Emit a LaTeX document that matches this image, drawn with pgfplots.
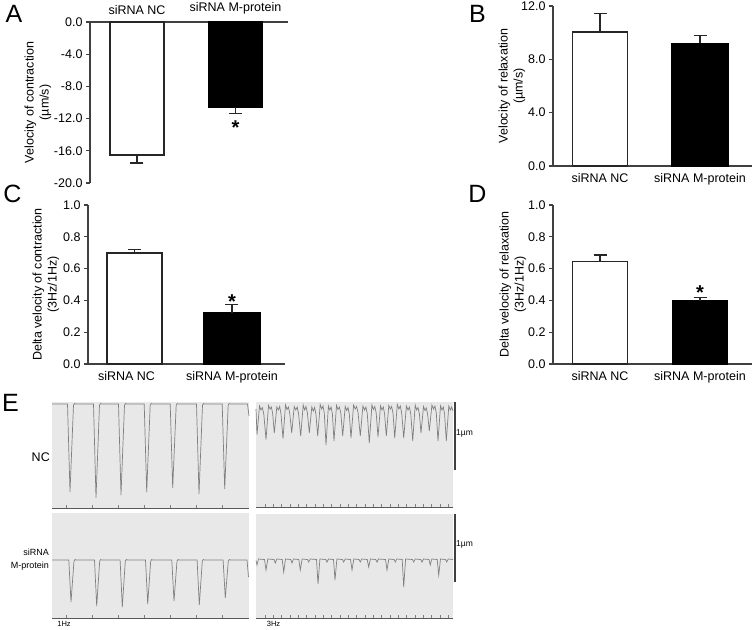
\documentclass[border=0pt]{standalone}
\usepackage{pgfplots}
\pgfplotsset{compat=1.18}
\usepackage{fontspec}
\setmainfont{Liberation Sans}
\newcommand{\fs}[1]{\fontsize{#1}{#1}\selectfont}
\pgfplotsset{
  barax/.style={
    scale only axis, axis y line*=left,
    xtick={0,1}, xticklabels={siRNA NC, siRNA M-protein},
    x tick style={draw=none},
    tick align=outside, major tick length=4pt,
    axis line style={line width=1.2pt, black!75},
    y tick style={line width=1.2pt, black!75},
    ticklabel style={font=\fs{12.5}},
    ylabel style={font=\fontsize{12.5}{15}\selectfont, align=center},
    clip=false,
  },
  trace/.style={
    scale only axis, width=197pt,
    axis background/.style={fill=black!9},
    axis y line=none, axis x line*=bottom,
    ytick=\empty, xticklabels={},
    tick align=inside, major tick length=3pt,
    x axis line style={black!65, line width=1pt},
    xtick style={black!50, line width=0.6pt},
    clip=false,
  },
  tr/.style={black!50, line width=0.7pt},
  ebarP/.style={error bars/.cd, y dir=plus, y explicit, error bar style={line width=1.3pt, black!85}, error mark options={rotate=90, line width=1.3pt, mark size=6.5pt, black!85}},
  ebarM/.style={error bars/.cd, y dir=minus, y explicit, error bar style={line width=1.3pt, black!85}, error mark options={rotate=90, line width=1.3pt, mark size=6.5pt, black!85}},
}
\begin{document}
\begin{tikzpicture}
% ---------- A ----------
\begin{axis}[barax, at={(90pt,-22pt)}, anchor=north west, width=198pt, height=161pt,
  axis x line*=top, xmin=-0.477, xmax=1.533, ymin=-20, ymax=0,
  ytick={-20,-16,-12,-8,-4,0}, yticklabels={-20.0,-16.0,-12.0,-8.0,-4.0,0.0},
  ylabel={Velocity of contraction\\(µm/s)}, ylabel shift=-4pt]
\addplot[ybar, bar shift=0pt, bar width=0.55, fill=white, draw=black!85, line width=1.6pt, ebarM]
  coordinates {(0,-16.5) -= (0,1.0)};
\addplot[ybar, bar shift=0pt, bar width=0.55, fill=black, draw=black, line width=1.6pt, ebarM]
  coordinates {(1,-10.6) -= (0,0.8)};
\node[font=\fs{20}\bfseries] at (axis cs:1,-13.1) {*};
\end{axis}
% ---------- B ----------
\begin{axis}[barax, at={(553pt,-6pt)}, anchor=north west, width=199pt, height=160pt,
  axis x line*=bottom, xmin=-0.47, xmax=1.52, ymin=0, ymax=12,
  ytick={0,4,8,12}, yticklabels={0.0,4.0,8.0,12.0},
  ylabel={Velocity of relaxation\\(µm/s)}, ylabel shift=-11pt]
\addplot[ybar, bar shift=0pt, bar width=0.55, fill=white, draw=black!85, line width=1.6pt, ebarP]
  coordinates {(0,10.05) += (0,1.4)};
\addplot[ybar, bar shift=0pt, bar width=0.56, fill=black, draw=black, line width=1.6pt, ebarP]
  coordinates {(1,9.2) += (0,0.6)};
\end{axis}
% ---------- C ----------
\begin{axis}[barax, at={(88pt,-205pt)}, anchor=north west, width=197pt, height=159pt,
  axis x line*=bottom, xmin=-0.477, xmax=1.544, ymin=0, ymax=1,
  xticklabels={\hspace*{-16pt}siRNA NC, siRNA M-protein},
  ytick={0,0.2,0.4,0.6,0.8,1}, yticklabels={0.0,0.2,0.4,0.6,0.8,1.0},
  ylabel={Delta velocity of contraction\\(3Hz/1Hz)}, ylabel shift=-3pt]
\addplot[ybar, bar shift=0pt, bar width=0.56, fill=white, draw=black!85, line width=1.6pt, ebarP]
  coordinates {(0,0.70) += (0,0.02)};
\addplot[ybar, bar shift=0pt, bar width=0.57, fill=black, draw=black, line width=1.6pt, ebarP]
  coordinates {(1,0.32) += (0,0.055)};
\node[font=\fs{20}\bfseries] at (axis cs:1,0.39) {*};
\end{axis}
% ---------- D ----------
\begin{axis}[barax, at={(553pt,-205pt)}, anchor=north west, width=199pt, height=159pt,
  axis x line*=bottom, xmin=-0.47, xmax=1.52, ymin=0, ymax=1,
  ytick={0,0.2,0.4,0.6,0.8,1}, yticklabels={0.0,0.2,0.4,0.6,0.8,1.0},
  ylabel={Delta velocity of relaxation\\(3Hz/1Hz)}, ylabel shift=-5pt]
\addplot[ybar, bar shift=0pt, bar width=0.55, fill=white, draw=black!85, line width=1.6pt, ebarP]
  coordinates {(0,0.645) += (0,0.04)};
\addplot[ybar, bar shift=0pt, bar width=0.55, fill=black, draw=black, line width=1.6pt, ebarP]
  coordinates {(1,0.395) += (0,0.025)};
\node[font=\fs{20}\bfseries] at (axis cs:1,0.45) {*};
\end{axis}
% ---------- E traces ----------
\begin{axis}[trace, at={(52pt,-402pt)}, anchor=north west, height=106pt,
  xmin=52, xmax=249, ymin=-508, ymax=-402, xtick={66.7,92.6,118.5,144.4,170.3,196.2,222.1}]
\addplot[tr] coordinates {
(52,-404) (67.5,-404) (70,-492) (73.5,-405) (74.5,-403.5) (75.5,-404)
(93.5,-404) (96,-498) (99.5,-405) (100.5,-403.5) (101.5,-404)
(118.5,-404) (121,-495) (124.5,-405) (125.5,-403.5) (126.5,-404)
(144.2,-404) (146.7,-492) (150.2,-405) (151.2,-403.5) (152.2,-404)
(170.2,-404) (172.7,-488) (176.2,-405) (177.2,-403.5) (178.2,-404)
(196.5,-404) (199,-494) (202.5,-405) (203.5,-403.5) (204.5,-404)
(222.2,-404) (224.7,-489) (228.2,-405) (229.2,-403.5) (230.2,-404)
(247.5,-404) (249,-416)};
\end{axis}
\begin{axis}[trace, at={(52pt,-513pt)}, anchor=north west, height=105pt,
  xmin=52, xmax=249, ymin=-618, ymax=-513, xtick={66.7,92.6,118.5,144.4,170.3,196.2,222.1}]
\addplot[tr] coordinates {
(52,-560) (68.8,-560) (71,-602) (74,-561) (75,-559.5) (76,-560)
(94.5,-560) (96.7,-606) (99.7,-561) (100.7,-559.5) (101.7,-560)
(120.1,-560) (122.3,-607) (125.3,-561) (126.3,-559.5) (127.3,-560)
(145.5,-560) (147.7,-604) (150.7,-561) (151.7,-559.5) (152.7,-560)
(171.8,-560) (174,-601) (177,-561) (178,-559.5) (179,-560)
(197.1,-560) (199.3,-605) (202.3,-561) (203.3,-559.5) (204.3,-560)
(223.1,-560) (225.3,-598) (228.3,-561) (229.3,-559.5) (230.3,-560)
(247,-560) (248.5,-577)};
\end{axis}
\begin{axis}[trace, at={(256pt,-402pt)}, anchor=north west, height=105pt,
  xmin=256, xmax=453, ymin=-507, ymax=-402, xtick={265,273.33,...,449}]
\addplot[tr] coordinates {
(256,-409) (257,-434.7)
(259.5,-406) (261,-410) (262.3,-407.5) (263.8,-414) (266,-439.7)
(268.5,-405.5) (270,-409) (271.3,-407) (272.6,-413) (274.3,-433)
(276.8,-407) (278.3,-410) (279.7,-406.5) (281,-414) (283,-438.7)
(285.5,-405) (287,-409.5) (288.4,-407) (289.7,-413) (291.7,-433)
(294.2,-406.5) (295.8,-410) (297.2,-407) (298.6,-414) (300.7,-436)
(303.2,-405) (304.7,-410) (306,-406.5) (307.4,-413) (309.3,-433)
(311.8,-407) (313.3,-411) (314.6,-407.5) (315.9,-414) (317.7,-436)
(320.2,-404.5) (321.7,-409) (323,-406) (324.3,-413) (326,-445)
(328.4,-406) (329.8,-410) (331.1,-407) (332.4,-414) (334,-441)
(336.5,-405.5) (338,-409.5) (339.4,-407) (340.8,-413) (342.7,-436)
(345.2,-406.5) (346.7,-410.5) (348,-407.5) (349.3,-414) (351,-438)
(353.6,-405) (355.2,-409) (356.6,-406.5) (358.1,-413) (360.3,-436)
(362.9,-406) (364.5,-410) (365.9,-407) (367.3,-414) (369.3,-443)
(371.9,-405) (373.4,-409.5) (374.8,-406.5) (376.2,-413) (378,-437)
(380.5,-406) (382,-410) (383.3,-407) (384.6,-414) (386.3,-436)
(388.8,-405.5) (390.3,-409) (391.6,-406.5) (393,-413) (394.7,-438)
(397.3,-404.5) (398.9,-409) (400.3,-406) (401.7,-413) (403.7,-438)
(406.4,-406) (408,-410) (409.4,-407) (410.8,-414) (412.7,-441)
(415.2,-405) (416.7,-410) (418,-407.5) (419.4,-414) (421,-433)
(423.5,-406.5) (425,-410.5) (426.3,-408) (427.6,-414) (429.3,-431)
(431.9,-405) (433.5,-409) (434.9,-406) (436.3,-413) (438,-441)
(440.5,-406) (442,-410) (443.3,-407) (444.6,-414) (446.3,-441)
(448.8,-406) (450.3,-410) (451.6,-407) (453,-411)};
\addplot[black!75, line width=2.5pt] coordinates {(454.8,-402) (454.8,-470)};
\end{axis}
\begin{axis}[trace, at={(256pt,-514pt)}, anchor=north west, height=104pt,
  xmin=256, xmax=453, ymin=-618, ymax=-514, xtick={265,273.33,...,449}]
\addplot[tr] coordinates {
(256,-560.5) (257,-565) (258.5,-559) (264.5,-559.5) (266,-570) (267.8,-559)
(274,-559.5) (275.3,-563) (276.8,-559) (282.2,-559.5) (283.7,-572) (285.5,-559)
(290.7,-559.5) (292,-563) (293.5,-559) (298.8,-559.5) (300.3,-570) (302.1,-559)
(307.4,-559.5) (308.7,-562) (310.2,-559) (316.5,-559.5) (318,-584) (319.9,-559)
(325.7,-559.5) (327,-562) (328.5,-559) (333.5,-559.5) (335,-580) (336.9,-559)
(342.4,-559.5) (343.7,-562) (345.2,-559) (350.5,-559.5) (352,-570) (353.8,-559)
(359,-559.5) (360.3,-562) (361.8,-559) (367.2,-559.5) (368.7,-567) (370.4,-559)
(375.7,-559.5) (377,-562) (378.5,-559) (385.5,-559.5) (387,-570) (388.8,-559)
(394,-559.5) (395.3,-562) (396.8,-559) (402.2,-559.5) (403.7,-587) (405.6,-559)
(412.4,-559.5) (413.7,-562) (415.2,-559) (420.7,-559.5) (422,-562) (423.5,-559)
(429,-559.5) (430.3,-565) (431.8,-559) (437.2,-559.5) (438.7,-575) (440.5,-559)
(445.4,-559.5) (446.7,-562) (448.2,-559) (453,-559.5)};
\addplot[black!75, line width=2.5pt] coordinates {(454.8,-514) (454.8,-582)};
\end{axis}
% ---------- labels ----------
\node[font=\fs{25}, inner sep=0] at (14pt,-14pt) {A};
\node[font=\fs{25}, inner sep=0] at (477.5pt,-14pt) {B};
\node[font=\fs{25}, inner sep=0] at (12.5pt,-194pt) {C};
\node[font=\fs{25}, inner sep=0] at (477.5pt,-194pt) {D};
\node[font=\fs{25}, inner sep=0] at (10.5pt,-402.5pt) {E};
\node[font=\fs{12.5}, anchor=east, inner sep=0] at (50pt,-457pt) {NC};
\node[font=\fontsize{9}{12.5}\selectfont, anchor=east, align=right, inner sep=0] at (49pt,-559.5pt) {siRNA\\M-protein};
\node[font=\fs{8.5}, anchor=west, inner sep=0] at (456pt,-433pt) {1µm};
\node[font=\fs{8.5}, anchor=west, inner sep=0] at (456pt,-544pt) {1µm};
\node[font=\fs{7.5}, inner sep=0] at (64pt,-624pt) {1Hz};
\node[font=\fs{7.5}, inner sep=0] at (273.5pt,-624pt) {3Hz};
\pgfresetboundingbox
\path (0pt,0pt) rectangle (754pt,-629pt);
\end{tikzpicture}
\end{document}
